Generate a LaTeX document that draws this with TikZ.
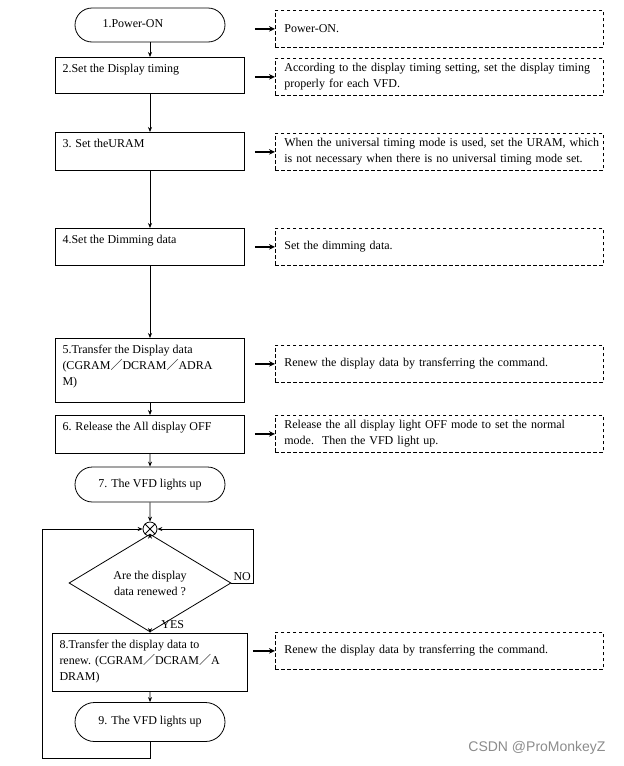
\documentclass[tikz,border=0pt]{standalone}
\usepackage{fontspec}
\setmainfont{Liberation Serif}
\newfontfamily\cjk{Noto Sans CJK JP}
\newfontfamily\wmfont{Liberation Sans}
\usetikzlibrary{shapes.geometric}
\usetikzlibrary{shapes.misc}
\usetikzlibrary{arrows.meta}
\newcommand{\fsl}{{\cjk ／}}
\newcommand{\stepbody}[3]{\parbox[t][#1][t]{#2}{\raggedright\strut #3}}
\newcommand{\nl}{\hspace*{6pt}}

\begin{document}
\begin{tikzpicture}[x=1pt,y=-1pt,line width=0.8pt,font=\fontsize{12}{16}\selectfont,
  stepbox/.style={draw,anchor=north,inner xsep=7pt,inner ysep=4pt},
  termbox/.style={draw,rounded rectangle,minimum width=150pt,inner sep=0pt},
  notebox/.style={draw,dash pattern=on 3.5pt off 2.5pt,anchor=north west,minimum width=328pt,minimum height=37pt,text width=322pt,inner xsep=3pt,align=left},
  flow/.style={-{Stealth[length=5pt,width=4pt]}},
  notearrow/.style={line width=1.4pt,-{Stealth[length=6pt,width=5.5pt]},shorten <=10pt}]
\useasboundingbox[fill=white] (0,0) rectangle (624,766);
% main column
\node[termbox,minimum height=34pt] (t1) at (150,25) {\raisebox{3pt}{\makebox[95pt][l]{1.Power-ON}}};
\node[stepbox] (s2) at (150,57) {\stepbody{28pt}{175pt}{2.Set the Display timing}};
\node[stepbox] (s3) at (150,132) {\stepbody{30pt}{175pt}{3. Set theURAM}};
\node[stepbox] (s4) at (150,228) {\stepbody{29pt}{175pt}{4.Set the Dimming data}};
\node[stepbox] (s5) at (150,338) {\stepbody{56pt}{175pt}{5.Transfer the Display data\\(CGRAM\fsl DCRAM\fsl ADRA\\M)}};
\node[stepbox] (s6) at (150,415) {\stepbody{30pt}{175pt}{6. Release the All display OFF}};
\node[termbox,minimum height=35pt] (t7) at (150,484.5) {7. The VFD lights up};
\node[draw,circle,minimum size=14pt,inner sep=0pt] (mrg) at (150,529) {};
\node[draw,diamond,minimum width=162pt,minimum height=72pt,inner sep=0pt,align=center] (dec) at (150,583) {Are the display\\data renewed ?};
\node[stepbox] (s8) at (150,633) {\stepbody{50pt}{181pt}{8.Transfer the display data to\\renew. (CGRAM\fsl DCRAM\fsl A\\DRAM)}};
\node[termbox,minimum height=39pt] (t9) at (150,722) {9. The VFD lights up};
\coordinate (lpl) at (42,758);
\coordinate (lpr) at (253,583);
% notes
\node[notebox] (n1) at (275,10) {\nl Power-ON.};
\node[notebox] (n2) at (275,58) {\nl According to the display timing setting, set the display timing\\\nl properly for each VFD.};
\node[notebox] (n3) at (275,133) {\nl When the universal timing mode is used, set the URAM, which\\\nl is not necessary when there is no universal timing mode set.};
\node[notebox] (n4) at (275,228) {\nl Set the dimming data.};
\node[notebox] (n5) at (275,345) {\nl Renew the display data by transferring the command.};
\node[notebox] (n6) at (275,415) {\nl Release the all display light OFF mode to set the normal\\\nl mode.\ \ Then the VFD light up.};
\node[notebox] (n8) at (275,632) {\nl Renew the display data by transferring the command.};
% flow
\draw[flow] (t1) -- (s2);
\draw[flow] (s2) -- (s3);
\draw[flow] (s3) -- (s4);
\draw[flow] (s4) -- (s5);
\draw[flow] (s5) -- (s6);
\draw[flow] (s6) -- (t7);
\draw[flow] (t7) -- (mrg);
\draw[flow] (mrg) -- (dec);
\draw[flow] (dec) -- node[pos=1,anchor=south west,inner sep=1pt,xshift=10pt,yshift=3pt]{YES} (s8);
\draw[flow] (s8) -- (t9);
\draw[flow] (t9.south) |- (lpl) |- (mrg.west);
\draw[flow] (dec.east) -- node[above,inner sep=1.5pt]{NO} (lpr) |- (mrg.east);
\draw (mrg.north west) -- (mrg.south east) (mrg.north east) -- (mrg.south west);
% to the notes
\draw[notearrow] (s2.east |- n1.west) -- (n1.west);
\draw[notearrow] (s2.east |- n2.west) -- (n2.west);
\draw[notearrow] (s3.east |- n3.west) -- (n3.west);
\draw[notearrow] (s4.east |- n4.west) -- (n4.west);
\draw[notearrow] (s5.east |- n5.west) -- (n5.west);
\draw[notearrow] (s6.east |- n6.west) -- (n6.west);
\draw[notearrow,shorten <=5pt] (s8.east |- n8.west) -- (n8.west);
\node[text=black!45,font=\wmfont\fontsize{14}{16}\selectfont] (wm) at (537,748) {CSDN @ProMonkeyZ};
\end{tikzpicture}
\end{document}
